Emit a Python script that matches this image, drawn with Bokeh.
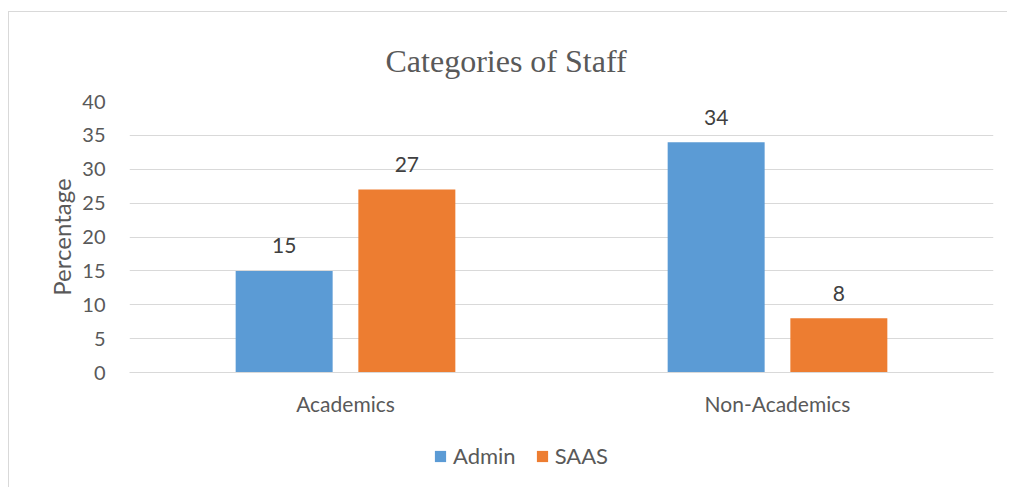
from bokeh.plotting import figure
from bokeh.layouts import column
from bokeh.models import ColumnDataSource, FactorRange, Range1d, Legend, LegendItem, Title, FixedTicker
from bokeh.transform import dodge
from bokeh.core.properties import value
from bokeh.embed import file_html
from bokeh.resources import INLINE

categories = ["Academics", "Non-Academics"]
admin = [15, 34]
saas = [27, 8]
series_names = ["Admin", "SAAS"]
series_colors = ["#5B9BD5", "#ED7D31"]
y_ticks = [0, 5, 10, 15, 20, 25, 30, 35, 40]

FONT = "Lato"
GREY = "#595959"

src = ColumnDataSource(dict(cat=categories, admin=admin, saas=saas,
                            admin_lbl=[str(v) for v in admin],
                            saas_lbl=[str(v) for v in saas]))

p = figure(x_range=FactorRange(*categories, range_padding=0), y_range=Range1d(0, 40),
           width=998, height=420, output_backend="svg", toolbar_location=None,
           min_border_left=120, min_border_right=14, min_border_top=89, min_border_bottom=60)

p.outline_line_color = None
p.background_fill_color = "white"
p.border_fill_color = "white"

bw = 0.2245
off = 0.142
p.vbar(x=dodge("cat", -off, range=p.x_range), top="admin", width=bw, source=src,
       fill_color=series_colors[0], line_color=None)
p.vbar(x=dodge("cat", off, range=p.x_range), top="saas", width=bw, source=src,
       fill_color=series_colors[1], line_color=None)

p.text(x=dodge("cat", -off, range=p.x_range), y="admin", text="admin_lbl", source=src,
       text_align="center", text_baseline="middle", y_offset=-25,
       text_font=value(FONT), text_font_size="21px", text_color="#404040")
p.text(x=dodge("cat", off, range=p.x_range), y="saas", text="saas_lbl", source=src,
       text_align="center", text_baseline="middle", y_offset=-25,
       text_font=value(FONT), text_font_size="21px", text_color="#404040")

# grid
p.xgrid.grid_line_color = None
p.ygrid.grid_line_color = "#d9d9d9"
p.ygrid.grid_line_width = 1
p.yaxis.ticker = FixedTicker(ticks=y_ticks)

# y axis
p.yaxis.axis_line_color = None
p.yaxis.major_tick_line_color = None
p.yaxis.minor_tick_line_color = None
p.yaxis.major_label_text_font = FONT
p.yaxis.major_label_text_font_size = "20px"
p.yaxis.major_label_text_color = GREY
p.yaxis.major_label_standoff = 18
p.yaxis.axis_label = "Percentage"
p.yaxis.axis_label_text_font = FONT
p.yaxis.axis_label_text_font_size = "24px"
p.yaxis.axis_label_text_font_style = "normal"
p.yaxis.axis_label_text_color = GREY
p.yaxis.axis_label_standoff = 3

# x axis
p.xaxis.axis_line_color = "#d9d9d9"
p.xaxis.major_tick_line_color = None
p.xaxis.minor_tick_line_color = None
p.xaxis.major_label_text_font = FONT
p.xaxis.major_label_text_font_size = "21px"
p.xaxis.major_label_text_color = GREY
p.xaxis.major_label_standoff = 12

# title
t = Title(text="Categories of Staff", align="left", text_font="Liberation Serif",
          text_font_size="32px", text_font_style="normal", text_color=GREY,
          standoff=46, offset=256)
p.add_layout(t, "above")

# legend strip
p2 = figure(x_range=Range1d(0, 1), y_range=Range1d(0, 1), width=998, height=55,
            output_backend="svg", toolbar_location=None,
            x_axis_location=None, y_axis_location=None,
            min_border_left=0, min_border_right=0, min_border_top=0, min_border_bottom=0)
p2.outline_line_color = None
p2.xgrid.grid_line_color = None
p2.ygrid.grid_line_color = None
lr1 = p2.vbar(x=[0.5], top=[0], width=0.01, fill_color=series_colors[0], line_color=None)
lr2 = p2.vbar(x=[0.5], top=[0], width=0.01, fill_color=series_colors[1], line_color=None)
legend = Legend(items=[LegendItem(label=series_names[0], renderers=[lr1]),
                       LegendItem(label=series_names[1], renderers=[lr2])],
                orientation="horizontal", location=(304, 18),
                label_text_font=FONT, label_text_font_size="22px", label_text_color=GREY,
                glyph_width=14, glyph_height=14, spacing=19, label_standoff=6,
                border_line_color=None, background_fill_alpha=0, padding=4, margin=0)
p2.add_layout(legend, "center")

layout = column(p, p2, styles={"border-top": "1px solid #d9d9d9",
                               "border-left": "1px solid #d9d9d9",
                               "margin-left": "8px", "margin-top": "11px"})

open("out.html", "w").write(file_html(layout, INLINE))
